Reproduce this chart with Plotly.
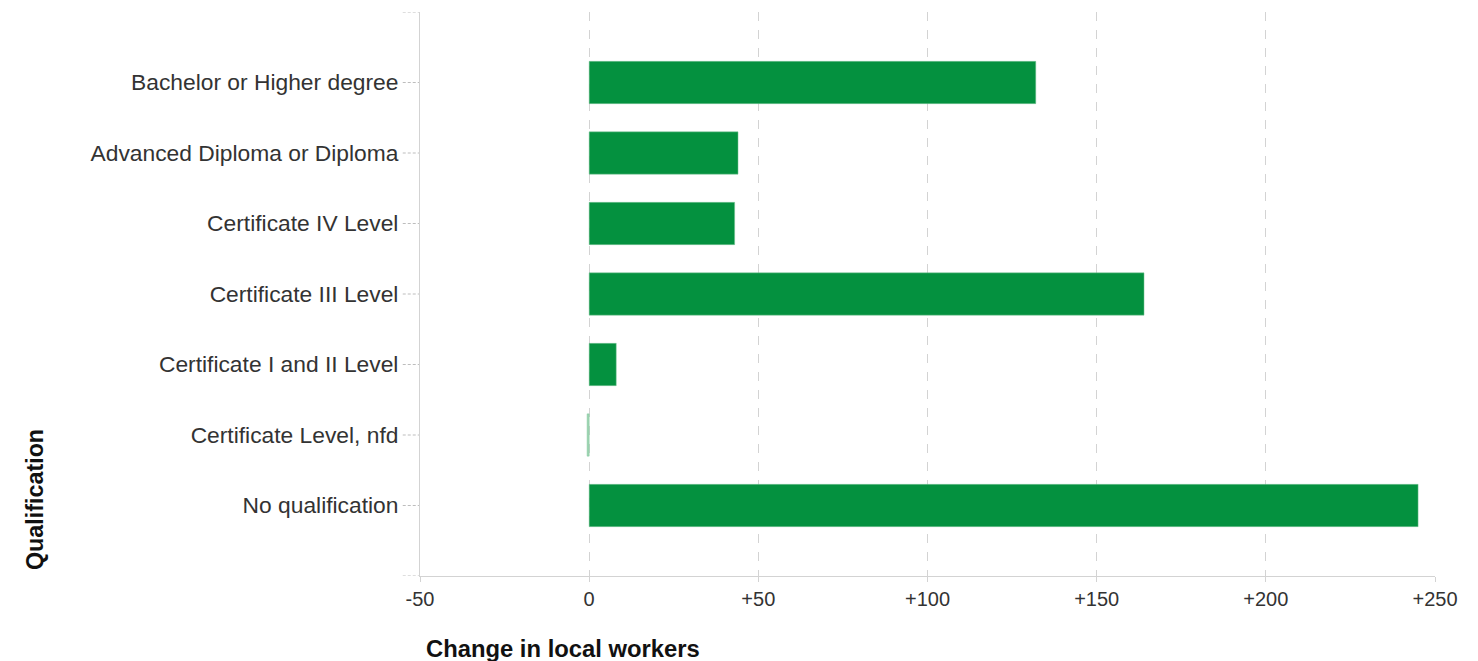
import plotly.graph_objects as go

categories = [
    "Bachelor or Higher degree",
    "Advanced Diploma or Diploma",
    "Certificate IV Level",
    "Certificate III Level",
    "Certificate I and II Level",
    "Certificate Level, nfd",
    "No qualification",
]
change = [132, 44, 43, 164, 8, -0.6, 245]
x_tickvals = [-50, 0, 50, 100, 150, 200, 250]
x_ticktext = ["-50", "0", "+50", "+100", "+150", "+200", "+250"]

BAR = "#04913f"
GRID = "#d3d3d3"
TXT = "#333333"
FONT = "Liberation Sans, Arial, sans-serif"

bar_colors = [BAR if v >= 1 or v <= -1 else "#9fd4b3" for v in change]

fig = go.Figure()
fig.add_trace(go.Bar(
    y=categories, x=change, orientation="h", width=0.6,
    marker=dict(color=bar_colors, line=dict(color="#7fc79a", width=0.5)),
    hoverinfo="x+y",
))

shapes = []
# dashed tick marks on the category axis
for c in categories:
    shapes.append(dict(type="line", xref="paper", yref="y", x0=-0.017, x1=-0.001,
                       y0=c, y1=c, line=dict(color="#bdbdbd", width=1, dash="3px,2px")))
for yy in [-1, 7]:
    shapes.append(dict(type="line", xref="paper", yref="y", x0=-0.017, x1=-0.001,
                       y0=yy, y1=yy, line=dict(color="#bdbdbd", width=1, dash="3px,2px")))

PW = 1015  # plot width in px
PH = 564   # plot height in px

fig.update_layout(
    width=1470, height=653,
    margin=dict(l=412, r=43, t=4, b=85),
    paper_bgcolor="white", plot_bgcolor="white",
    showlegend=False,
    font=dict(family=FONT, color=TXT, size=22),
    shapes=shapes,
    xaxis=dict(
        range=[-50, 250], tickvals=x_tickvals, ticktext=x_ticktext,
        showgrid=True, gridcolor=GRID, griddash="dash", gridwidth=1,
        zeroline=False, showline=True, linecolor=GRID, linewidth=1,
        ticks="outside", ticklen=5, tickcolor=GRID,
        tickfont=dict(size=20, color=TXT, family=FONT),
    ),
    yaxis=dict(
        type="category", categoryorder="array", categoryarray=categories,
        range=[7, -1], showgrid=False, zeroline=False,
        showline=True, linecolor=GRID, linewidth=1,
        ticks="", ticklabelstandoff=16,
        tickfont=dict(size=22.8, color=TXT, family=FONT),
    ),
    annotations=[
        dict(text="<b>Qualification</b>", xref="paper", yref="paper",
             x=-385 / PW, y=(576 - 500) / PH, textangle=-90,
             showarrow=False, xanchor="center", yanchor="middle",
             font=dict(size=23.3, color="#111", family=FONT)),
        dict(text="<b>Change in local workers</b>", xref="paper", yref="paper",
             x=4 / PW, y=-(648 - 576) / PH, showarrow=False,
             xanchor="left", yanchor="middle",
             font=dict(size=23.8, color="#111", family=FONT)),
    ],
)

fig.write_html("out.html")
